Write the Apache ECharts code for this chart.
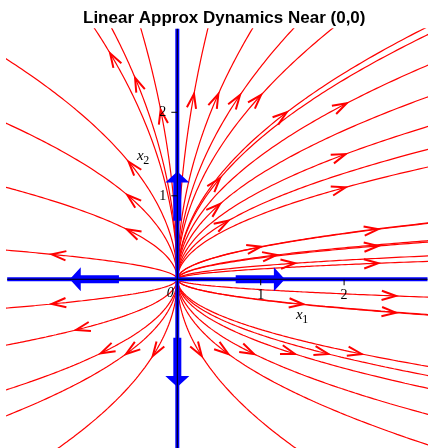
<!DOCTYPE html>
<html>
<head>
<meta charset="utf-8">
<script src="https://cdn.jsdelivr.net/npm/echarts@6/dist/echarts.min.js"></script>
<style>
  html, body { margin: 0; padding: 0; background: #ffffff; }
  #chart { width: 428px; height: 448px; }
</style>
</head>
<body>
<div id="chart"></div>
<script>
// Linearised system at the origin: x1' = 2*x1, x2' = x2
const rates = [2, 1];
// Eigen-directions of the linearisation (drawn as thick blue arrows)
const eigenDirections = [[1, 0], [-1, 0], [0, 1], [0, -1]];
const eigenArrowSpan = [0.7, 1.29];
// Axis ranges and tick labels
const x1Range = [-2.04, 3];
const x2Range = [-2.04, 3];
const x1Ticks = [1, 2];
const x2Ticks = [1, 2];

// Points on each trajectory where its direction arrow sits
const seedsUpperLeft = [
  [-0.806, 2.707], [-0.507, 2.414], [-0.200, 2.030], [-0.584, 1.408],
  [-0.600, 1.010], [-0.607, 0.599], [-1.506, 0.299]
];
const seedsUpperRight = [
  [0.200, 2.219], [0.492, 2.219], [0.752, 2.207], [1.004, 2.207],
  [1.312, 2.000], [2.031, 2.108], [2.019, 1.500], [0.512, 1.210],
  [2.019, 1.102], [0.512, 0.902], [0.612, 0.702], [2.410, 0.599],
  [1.004, 0.390], [2.410, 0.399], [1.192, 0.291], [2.410, 0.192],
  [1.411, 0.192]
];
const seedsLowerRight = [
  [2.622, -0.200], [1.511, -0.299], [2.622, -0.400], [0.293, -0.919],
  [0.612, -0.895], [0.920, -0.895], [1.411, -0.895], [1.811, -0.895],
  [2.211, -0.895]
];
const seedsLowerLeft = [
  [-1.506, -0.296], [-1.215, -0.607], [-0.918, -0.886], [-0.615, -0.895],
  [-0.295, -0.919]
];
const seeds = seedsUpperLeft.concat(seedsUpperRight, seedsLowerRight, seedsLowerLeft);

// Integrate the (exactly solvable) linear flow through a seed, backwards to the
// origin and forwards until the trajectory leaves the viewing window.
function trajectory(seed) {
  const pts = [];
  const dt = 0.01;
  const at = t => [seed[0] * Math.exp(rates[0] * t), seed[1] * Math.exp(rates[1] * t)];
  const back = [];
  for (let t = 0; ; t -= dt) {
    const p = at(t);
    back.push(p);
    if (Math.abs(p[0]) < 1e-4 && Math.abs(p[1]) < 1e-4) break;
  }
  back.reverse();
  for (const p of back) pts.push(p);
  for (let t = dt; ; t += dt) {
    const p = at(t);
    pts.push(p);
    if (p[0] > x1Range[1] + 0.2 || p[0] < x1Range[0] - 0.2 ||
        p[1] > x2Range[1] + 0.2 || p[1] < x2Range[0] - 0.2) break;
  }
  return pts;
}

const red = '#ff0000';
const blue = '#0000ff';
const serif = '"Liberation Serif", "Times New Roman", serif';

const series = [];
seeds.forEach((s, i) => {
  series.push({
    name: 'trajectory ' + (i + 1),
    type: 'line',
    data: trajectory(s),
    showSymbol: false,
    clip: true,
    silent: true,
    z: 1,
    lineStyle: { color: red, width: 1.2 }
  });
});

// Direction chevrons on the trajectories
series.push({
  name: 'direction',
  type: 'custom',
  coordinateSystem: 'cartesian2d',
  data: seeds,
  z: 2,
  silent: true,
  renderItem: function (params, api) {
    const s1 = api.value(0), s2 = api.value(1);
    const p = api.coord([s1, s2]);
    const h = 1e-3;
    const q = api.coord([s1 + h * rates[0] * s1, s2 + h * rates[1] * s2]);
    let dx = q[0] - p[0], dy = q[1] - p[1];
    const len = Math.hypot(dx, dy) || 1;
    dx /= len; dy /= len;
    const L = 15, th = 18 * Math.PI / 180;
    const c = Math.cos(th), sn = Math.sin(th);
    const w1 = [p[0] - L * (dx * c - dy * sn), p[1] - L * (dx * sn + dy * c)];
    const w2 = [p[0] - L * (dx * c + dy * sn), p[1] - L * (-dx * sn + dy * c)];
    return {
      type: 'polyline',
      shape: { points: [w1, p, w2] },
      style: { stroke: red, lineWidth: 2, fill: null }
    };
  }
});

// Thick blue axes
series.push({
  name: 'x1 axis', type: 'line', silent: true, showSymbol: false, z: 3,
  data: [[x1Range[0], 0], [x1Range[1], 0]],
  lineStyle: { color: blue, width: 4 }
});
series.push({
  name: 'x2 axis', type: 'line', silent: true, showSymbol: false, z: 3,
  data: [[0, x2Range[0]], [0, x2Range[1]]],
  lineStyle: { color: blue, width: 4 }
});

// Eigenvector arrows
series.push({
  name: 'eigenvectors',
  type: 'custom',
  coordinateSystem: 'cartesian2d',
  data: eigenDirections,
  z: 4,
  silent: true,
  renderItem: function (params, api) {
    const d = [api.value(0), api.value(1)];
    const a = api.coord([d[0] * eigenArrowSpan[0], d[1] * eigenArrowSpan[0]]);
    const b = api.coord([d[0] * eigenArrowSpan[1], d[1] * eigenArrowSpan[1]]);
    let ux = b[0] - a[0], uy = b[1] - a[1];
    const len = Math.hypot(ux, uy);
    ux /= len; uy /= len;
    const nx = -uy, ny = ux;
    const shaft = 4, head = 12, headLen = 11;
    const base = [b[0] - ux * headLen, b[1] - uy * headLen];
    const pts = [
      [a[0] + nx * shaft, a[1] + ny * shaft],
      [base[0] + nx * shaft, base[1] + ny * shaft],
      [base[0] + nx * head, base[1] + ny * head],
      b,
      [base[0] - nx * head, base[1] - ny * head],
      [base[0] - nx * shaft, base[1] - ny * shaft],
      [a[0] - nx * shaft, a[1] - ny * shaft]
    ];
    return { type: 'polygon', shape: { points: pts }, style: { fill: blue } };
  }
});

// Thin black axes through the origin, with ticks and tick labels
series.push({
  name: 'axes',
  type: 'custom',
  coordinateSystem: 'cartesian2d',
  data: [[0, 0]],
  z: 5,
  silent: true,
  renderItem: function (params, api) {
    const o = api.coord([0, 0]);
    const xl = api.coord([x1Range[0], 0]), xr = api.coord([x1Range[1], 0]);
    const yb = api.coord([0, x2Range[0]]), yt = api.coord([0, x2Range[1]]);
    const line = (p, q, w) => ({
      type: 'line', shape: { x1: p[0], y1: p[1], x2: q[0], y2: q[1] },
      style: { stroke: '#000', lineWidth: w }
    });
    const text = (t, x, y, align, font) => ({
      type: 'text',
      style: { text: t, x: x, y: y, align: align, verticalAlign: 'middle', font: font, fill: '#000' }
    });
    const children = [line(xl, xr, 1), line(yb, yt, 1)];
    x1Ticks.forEach(v => {
      const p = api.coord([v, 0]);
      children.push(line([p[0], p[1]], [p[0], p[1] + 6], 1));
      children.push(text(String(v), p[0], p[1] + 16, 'center', '14px ' + serif));
    });
    x2Ticks.forEach(v => {
      const p = api.coord([0, v]);
      children.push(line([p[0] - 6, p[1]], [p[0], p[1]], 1));
      children.push(text(String(v), p[0] - 11, p[1] + 0.5, 'right', '14px ' + serif));
    });
    children.push(text('0', o[0] - 7, o[1] + 14.5, 'center', 'italic 14px ' + serif));
    // axis names x1, x2
    children.push(text('x', o[0] + 122, o[1] + 35.5, 'center', 'italic 15px ' + serif));
    children.push(text('1', o[0] + 128, o[1] + 40.5, 'center', '12px ' + serif));
    children.push(text('x', o[0] - 37, o[1] - 123, 'center', 'italic 15px ' + serif));
    children.push(text('2', o[0] - 31, o[1] - 118.5, 'center', '12px ' + serif));
    return { type: 'group', children: children };
  }
});

const chart = echarts.init(document.getElementById('chart'), null, { renderer: 'canvas' });
chart.setOption({
  animation: false,
  backgroundColor: '#ffffff',
  title: {
    text: 'Linear Approx Dynamics Near (0,0)',
    left: 83,
    top: 10,
    padding: 0,
    textStyle: { fontFamily: '"Liberation Sans", Arial, sans-serif', fontWeight: 'bold', fontSize: 17, color: '#000' }
  },
  grid: { left: 7.2, top: 28.8, width: 420.3, height: 420.8, containLabel: false, outerBoundsMode: 'none' },
  xAxis: {
    type: 'value', min: x1Range[0], max: x1Range[1],
    axisLine: { show: false }, axisTick: { show: false }, axisLabel: { show: false },
    splitLine: { show: false }
  },
  yAxis: {
    type: 'value', min: x2Range[0], max: x2Range[1],
    axisLine: { show: false }, axisTick: { show: false }, axisLabel: { show: false },
    splitLine: { show: false }
  },
  series: series
});
</script>
</body>
</html>
